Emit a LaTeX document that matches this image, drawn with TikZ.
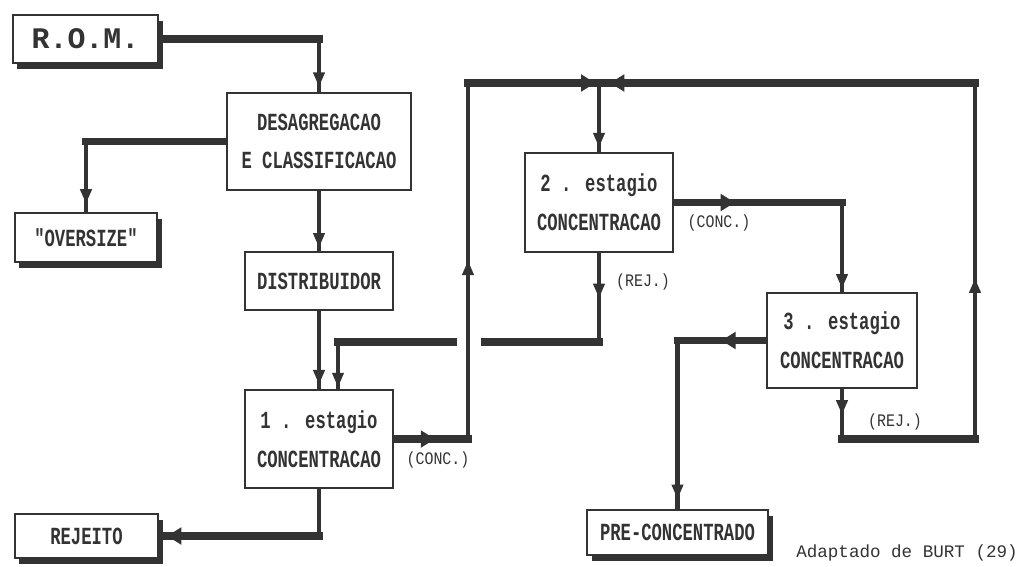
\documentclass[tikz,border=0pt]{standalone}
\usepackage{fontspec}
\usepackage{tikz}
\usetikzlibrary{arrows.meta,positioning,calc,decorations.markings,shadows,backgrounds}
\newfontfamily\bxfont[FakeStretch=0.7]{Liberation Mono}
\newfontfamily\lbfont[FakeStretch=0.85]{Liberation Mono}
\newfontfamily\crfont{Liberation Mono}
\definecolor{ink}{HTML}{333333}
\newcommand{\bxf}{\bxfont\bfseries\fontsize{14}{22}\selectfont}
\newcommand{\romf}{\crfont\bfseries\fontsize{17}{20}\selectfont}
\newcommand{\lbf}{\lbfont\fontsize{10}{12}\selectfont}
\newcommand{\crf}{\crfont\fontsize{10}{12}\selectfont}

\begin{document}
\begin{tikzpicture}[
  x=0.02cm, y=-0.02cm,
  sz/.style 2 args = {minimum width=#1*0.02cm, minimum height=#2*0.02cm},
  bx/.style    = {draw=ink, line width=1.5pt, fill=white, inner sep=0pt, align=center, text=ink, font=\bxf},
  sbx/.style   = {bx, drop shadow={shadow xshift=0.09cm, shadow yshift=-0.12cm, fill=ink, opacity=1}},
  hl/.style    = {ink, line width=4.4pt, line cap=rect},
  vl/.style    = {ink, line width=2.6pt},
  arat/.style  = {postaction={decorate}, decoration={markings,
                  mark=at position #1 with {\arrow{Triangle[length=8pt,width=7pt,line width=0pt]}}}},
  harat/.style = {postaction={decorate}, decoration={markings,
                  mark=at position #1 with {\arrow{Triangle[length=8pt,width=10pt,line width=0pt]}}}},
  lb/.style    = {font=\lbf, text=ink, inner sep=0pt}
]
\useasboundingbox (0,0) rectangle (1018,566);

% ---------- boxes -------------------------------------------------------
\node[sbx, sz={145}{48}, font=\romf] (rom) at (85.5,39) {R.O.M.};
\node[bx,  sz={184}{97}]  (desag) at (319,141.5) {DESAGREGACAO\\E CLASSIFICACAO};
\node[sbx, sz={142}{49}]  (over)  at (86,237.5)  {"OVERSIZE"};
\node[bx,  sz={148}{58}]  (dist)  at (319,281)   {DISTRIBUIDOR};
\node[bx,  sz={148}{98}]  (st1)   at (319,439)   {1 . estagio\\CONCENTRACAO};
\node[sbx, sz={143}{44}]  (rej)   at (86.5,536)  {REJEITO};
\node[bx,  sz={148}{99}]  (st2)   at (599,202.5) {2 . estagio\\CONCENTRACAO};
\node[bx,  sz={150}{95}]  (st3)   at (842,340.5) {3 . estagio\\CONCENTRACAO};
\node[sbx, sz={181}{45}]  (pre)   at (677.5,532.5) {PRE-CONCENTRADO};

% ---------- stream labels -----------------------------------------------
\node[lb] (conc1) at (438,460) {(CONC.)};
\node[lb] (conc2) at (719,223) {(CONC.)};
\node[lb] (rej2)  at (643,282) {(REJ.)};
\node[lb] (rej3)  at (895,422) {(REJ.)};
\node[font=\crf, text=ink, inner sep=0pt] (src) at (907,553) {Adaptado de BURT (29)};

% ---------- corners -----------------------------------------------------
\coordinate (k1)  at (rom.east -| desag.north);
\coordinate (k2)  at (desag.west -| over.north);
\coordinate (k3)  at (st2.south |- 0,342);
\coordinate (k5)  at ($(st1.north)+(19,0)$);
\coordinate (k4)  at (k5 |- k3);
\coordinate (k6)  at (468,0 |- st1.east);
\coordinate (k7)  at (k6 |- 0,83);
\coordinate (jn)  at (st2.north |- k7);
\coordinate (g1)  at ($(k6 |- k3)+(17,0)$);
\coordinate (g2)  at ($(k6 |- k3)+(-15,0)$);
\coordinate (k8)  at (st3.south |- k6);
\coordinate (k9)  at (975,0 |- k8);
\coordinate (k10) at (k9 |- k7);
\coordinate (k11) at (st3.north |- st2.east);
\coordinate (k12) at (pre.north |- st3.west);
\coordinate (k13) at (st1.south |- rej.east);

% ---------- connectors (under the boxes) --------------------------------
\begin{scope}[on background layer]
\fill[white] (0,0) rectangle (1018,566);

% feed and sizing
\draw[hl] (rom.east) -- (k1);
\draw[vl, arat=0.9] (k1) -- (desag.north);
\draw[hl] (desag.west) -- (k2);
\draw[vl, arat=0.88] (k2) -- (over.north);
\foreach \a/\b in {desag/dist, dist/st1}{
  \draw[vl, arat=0.94] (\a.south) -- (\b.north);}

% 1st stage
\draw[hl, harat=0.55] (st1.east) -- (k6);
\draw[vl, arat=0.5] (k6) -- (k7);
\draw[hl, harat=0.97] (k7) -- (jn);
\draw[vl] (st1.south) -- (k13);
\draw[hl, harat=0.95] (k13) -- (rej.east);

% 2nd stage
\draw[vl, arat=0.93] (jn) -- (st2.north);
\draw[hl, harat=0.36] (st2.east) -- (k11);
\draw[vl, arat=0.96] (k11) -- (st3.north);
\draw[vl, arat=0.5] (st2.south) -- (k3);
\draw[hl] (k3) -- (g1);
\draw[hl] (g2) -- (k4);
\draw[vl, arat=0.96] (k4) -- (k5);

% 3rd stage
\draw[hl, harat=0.5] (st3.west) -- (k12);
\draw[vl, arat=0.94] (k12) -- (pre.north);
\draw[vl, arat=0.5] (st3.south) -- (k8);
\draw[hl] (k8) -- (k9);
\draw[vl, arat=0.45] (k9) -- (k10);
\draw[hl, harat=0.97] (k10) -- (jn);
\end{scope}

\end{tikzpicture}
\end{document}
